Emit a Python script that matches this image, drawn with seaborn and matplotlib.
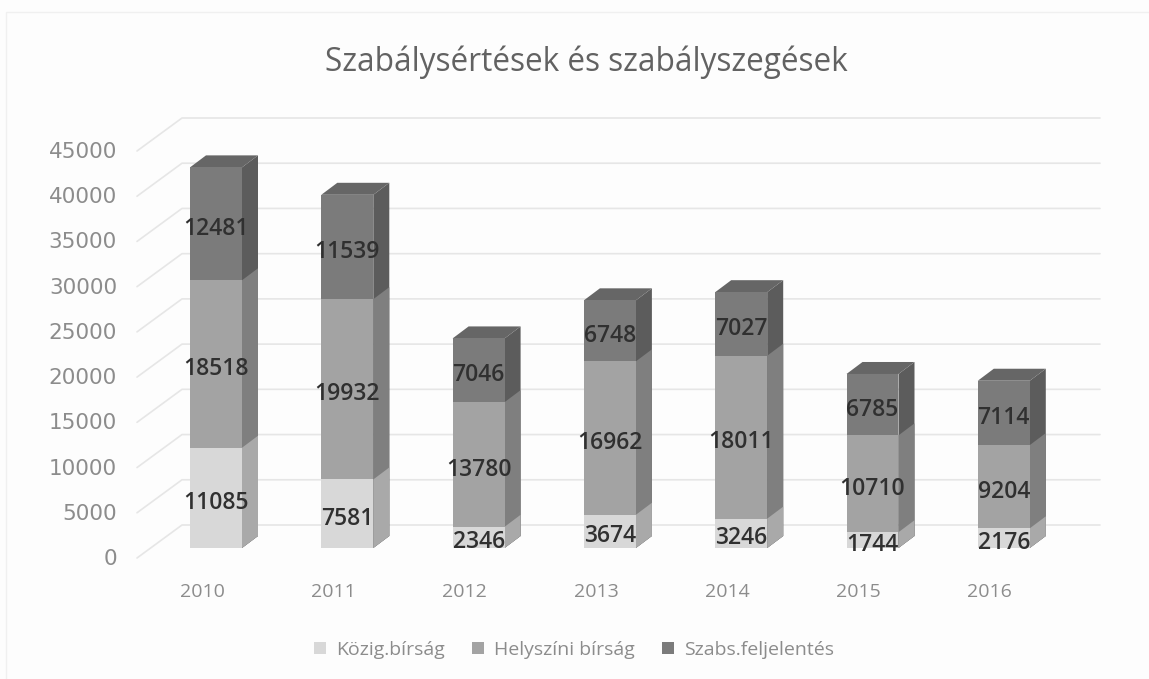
import numpy as np
import pandas as pd
import seaborn as sns
import matplotlib.pyplot as plt
from matplotlib.patches import Polygon, Rectangle
from matplotlib.transforms import ScaledTranslation

years = ['2010', '2011', '2012', '2013', '2014', '2015', '2016']
kozig = [11085, 7581, 2346, 3674, 3246, 1744, 2176]
helyszini = [18518, 19932, 13780, 16962, 18011, 10710, 9204]
szabs = [12481, 11539, 7046, 6748, 7027, 6785, 7114]
series_names = ['Közig.bírság', 'Helyszíni bírság', 'Szabs.feljelentés']
y_ticks = [0, 5000, 10000, 15000, 20000, 25000, 30000, 35000, 40000, 45000]

front_colors = ['#d8d8d8', '#a3a3a3', '#7b7b7b']
side_colors = ['#a9a9a9', '#7f7f7f', '#5c5c5c']
top_color = '#666666'
grid_color = '#e6e6e6'

W, H = 1149, 679
PX_CAT = 131.3
PX_VAL = 407 / 45000


def main():
    sns.set_style('white')
    plt.rcParams['font.family'] = ['Open Sans', 'DejaVu Sans']

    fig = plt.figure(figsize=(W / 100, H / 100), dpi=100, facecolor='#fdfdfd')
    left = 216 - PX_CAT / 2
    ax = fig.add_axes([left / W, (H - 548) / H, 7 * PX_CAT / W, 407 / H])
    ax.patch.set_alpha(0)

    df = pd.DataFrame({'year': years, 'kozig': kozig, 'helyszini': helyszini, 'szabs': szabs})
    df['c1'] = df['kozig']
    df['c2'] = df['c1'] + df['helyszini']
    df['c3'] = df['c2'] + df['szabs']

    # bar depth, in data units
    dx = 16 / PX_CAT
    dy = 12 / PX_VAL

    # stacked by overplotting: tallest cumulative first
    for i, col in [(2, 'c3'), (1, 'c2'), (0, 'c1')]:
        before = len(ax.patches)
        sns.barplot(data=df, x='year', y=col, color=front_colors[i], saturation=1,
                    width=0.396, linewidth=0, zorder=3, ax=ax)
        for bar in ax.patches[before:before + len(years)]:
            x1 = bar.get_x() + bar.get_width()
            x0 = bar.get_x()
            h = bar.get_height()
            ax.add_patch(Polygon([(x1, 0), (x1 + dx, dy), (x1 + dx, h + dy), (x1, h)],
                                 closed=True, fc=side_colors[i], lw=0, zorder=2, clip_on=False))
            if i == 2:
                ax.add_patch(Polygon([(x0, h), (x0 + dx, h + dy), (x1 + dx, h + dy), (x1, h)],
                                     closed=True, fc=top_color, lw=0, zorder=2, clip_on=False))

    ax.set_xlim(-0.5, 6.5)
    ax.set_ylim(0, 45000)
    ax.set_xlabel('')
    ax.set_ylabel('')
    sns.despine(ax=ax, left=True, bottom=True, top=True, right=True)

    # wall and floor gridlines
    front_x, back_x, end_x = (137 - 216) / PX_CAT, (182 - 216) / PX_CAT, (1100 - 216) / PX_CAT
    front_dy, back_dy = -10 / PX_VAL, 23 / PX_VAL
    for v in y_ticks:
        ax.plot([front_x, back_x, end_x], [v + front_dy, v + back_dy, v + back_dy],
                color=grid_color, lw=1.2, zorder=1, clip_on=False)

    # data labels
    starts = np.zeros(len(years))
    for vals in (kozig, helyszini, szabs):
        for j, v in enumerate(vals):
            ax.annotate(str(v), (j, starts[j] + v / 2), xytext=(0, -1.5), textcoords='offset points',
                        ha='center', va='center_baseline', fontsize=16.5, fontweight='semibold',
                        color='#303030', zorder=5, annotation_clip=False)
        starts += np.array(vals)

    # axis labels sit on the front plane, not on the bar plane
    ax.set_yticks(y_ticks)
    ax.set_yticklabels([str(v) for v in y_ticks], family='DejaVu Sans')
    ax.tick_params(axis='y', length=0, pad=24, labelsize=15.5, labelcolor='#8c8c8c')
    ax.tick_params(axis='x', length=0, pad=25, labelsize=14, labelcolor='#8c8c8c')
    y_shift = ScaledTranslation(0, -0.09, fig.dpi_scale_trans)
    x_shift = ScaledTranslation(-0.14, 0, fig.dpi_scale_trans)
    for lab in ax.get_yticklabels():
        lab.set_transform(lab.get_transform() + y_shift)
    for lab in ax.get_xticklabels():
        lab.set_transform(lab.get_transform() + x_shift)

    fig.text(586 / W, 1 - 62 / H, 'Szabálysértések és szabályszegések', ha='center', va='center',
             fontsize=22.7, color='#626262')

    handles = [Rectangle((0, 0), 1, 1, fc=c, lw=0) for c in front_colors]
    fig.legend(handles, series_names, loc='center', bbox_to_anchor=(574 / W, 1 - 650 / H), ncols=3,
               frameon=False, fontsize=14, labelcolor='#8c8c8c', handlelength=0.62,
               handleheight=0.62, handletextpad=0.5, columnspacing=1.4)

    # faint chart frame
    fig.add_artist(Rectangle((6 / W, -0.01), 1.01, 1 - 12 / H + 0.01, transform=fig.transFigure,
                             fc='none', ec='#f0f0f0', lw=1))

    fig.savefig('out.png', dpi=100, facecolor=fig.get_facecolor())


if __name__ == '__main__':
    main()
